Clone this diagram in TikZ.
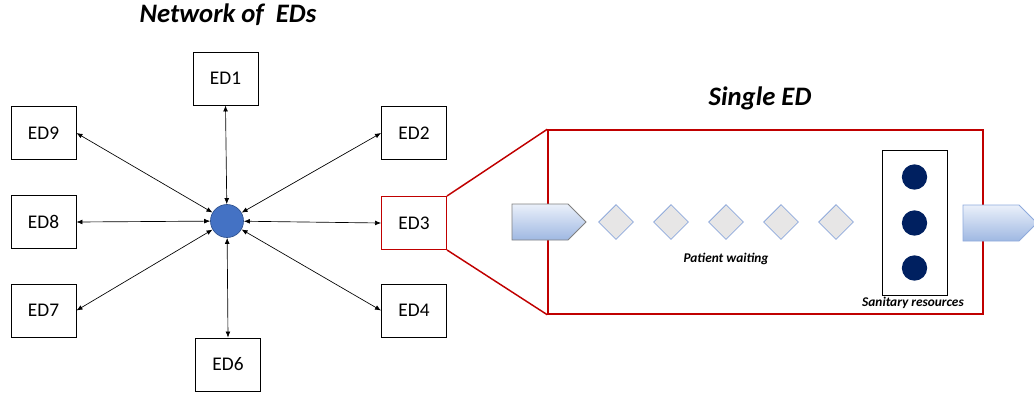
\documentclass[tikz,border=0pt]{standalone}
\usepackage{fontspec}
\setmainfont{Carlito}
\usetikzlibrary{arrows.meta,shapes.geometric}
\definecolor{edred}{HTML}{C00000}
\definecolor{hubblue}{HTML}{4472C4}
\definecolor{hubline}{HTML}{2F528F}
\definecolor{navy}{HTML}{002060}
\definecolor{qfill}{HTML}{E7E6E6}
\definecolor{qline}{HTML}{8FAADC}
\definecolor{arrtop}{HTML}{EAF0FA}
\definecolor{arrbot}{HTML}{9FB8E2}
\tikzset{
  edbox/.style={draw, line width=0.7pt, minimum width=48.75pt, minimum height=39.75pt, inner sep=0pt, font=\fontsize{14.5}{17}\selectfont},
  link/.style={{Latex[length=4.5pt,width=3.6pt]}-{Latex[length=4.5pt,width=3.6pt]}, line width=0.5pt},
  title/.style={font=\fontsize{20}{24}\selectfont\bfseries\itshape},
  small/.style={font=\fontsize{10}{12}\selectfont\bfseries\itshape},
  patient/.style={diamond, draw=qline, fill=qfill, line width=0.6pt, minimum width=26.25pt, minimum height=26.25pt, inner sep=0pt},
  staff/.style={circle, fill=navy, minimum size=19pt, inner sep=0pt},
  flow/.style={top color=arrtop, bottom color=arrbot, line width=0.7pt}
}
\begin{document}
\begin{tikzpicture}[x=0.75pt, y=-0.75pt]
  \useasboundingbox (0,0) rectangle (1034,394);
  % network of EDs
  \node[title] (nettitle) at (228,15) {Network of\ \ EDs};
  \foreach \n/\x/\y in {1/225.5/78.5, 2/414/133, 4/414/310.5, 6/228/364.5, 7/43.5/310.5, 8/43.5/222, 9/43.5/133}
    \node[edbox] (ED\n) at (\x,\y) {ED\n};
  \node[edbox, draw=edred] (ED3) at (414,223) {ED3};
  \node[circle, fill=hubblue, draw=hubline, line width=0.5pt, minimum size=24.75pt, inner sep=0pt] (hub) at (227,221) {};
  \foreach \n/\a in {1/south, 2/west, 3/west, 4/west, 6/north, 7/east, 8/east, 9/east}
    \draw[link] (ED\n.\a) -- (hub);
  % single ED
  \node[title] (edtitle) at (760,98) {Single ED};
  \node[draw=edred, line width=1.1pt, minimum width=326.25pt, minimum height=138pt, inner sep=0pt] (single) at (765.5,222) {};
  \draw[edred, line width=1.1pt] (ED3.north east) -- (single.north west) (ED3.south east) -- (single.south west);
  % arrival and departure arrows
  \shadedraw[flow, draw=gray] (512,204) -- (568,204) -- (586,222) -- (568,240) -- (512,240) -- cycle;
  \shadedraw[flow, draw=qline] (963,205) -- (1019,205) -- (1037,223) -- (1019,241) -- (963,241) -- cycle;
  \foreach \i/\x in {1/616, 2/671, 3/726, 4/781, 5/836}
    \node[patient] (P\i) at (\x,222) {};
  \node[small] (waiting) at (726,259) {Patient waiting};
  \node[draw, line width=0.6pt, minimum width=48.75pt, minimum height=108.75pt, inner sep=0pt] (resources) at (914.5,222.5) {};
  \foreach \i/\y in {1/177, 2/223, 3/268}
    \node[staff] (R\i) at (914.5,\y) {};
  \node[small] (sanitary) at (913,303) {Sanitary resources};
\end{tikzpicture}
\end{document}
